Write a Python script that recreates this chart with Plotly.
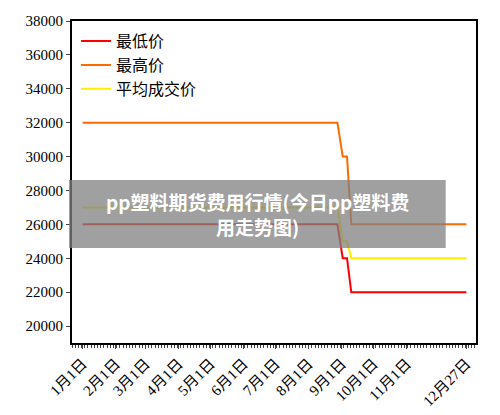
import plotly.graph_objects as go

dates = ["2023-01-01", "2023-08-28", "2023-09-02", "2023-09-06", "2023-09-10", "2023-12-27"]
low = [26000, 26000, 24000, 24000, 22000, 22000]
high = [32000, 32000, 30000, 30000, 26000, 26000]
avg = [27000, 27000, 25000, 25000, 24000, 24000]
tick_dates = ["2023-01-01", "2023-02-01", "2023-03-01", "2023-04-01", "2023-05-01", "2023-06-01",
              "2023-07-01", "2023-08-01", "2023-09-01", "2023-10-01", "2023-11-01", "2023-12-27"]
tick_labels = ["1月1日", "2月1日", "3月1日", "4月1日", "5月1日", "6月1日",
               "7月1日", "8月1日", "9月1日", "10月1日", "11月1日", "12月27日"]
y_ticks = list(range(20000, 38001, 2000))
y_labels = [str(v) for v in y_ticks]

fig = go.Figure()
fig.add_trace(go.Scatter(x=dates, y=low, mode="lines", name="最低价", line=dict(color="#ff0000", width=2)))
fig.add_trace(go.Scatter(x=dates, y=high, mode="lines", name="最高价", line=dict(color="#ff6a00", width=2)))
fig.add_trace(go.Scatter(x=dates, y=avg, mode="lines", name="平均成交价", line=dict(color="#ffee00", width=2)))

font = "'Liberation Serif', 'Noto Sans CJK SC', serif"
fig.update_layout(
    width=500, height=415, margin=dict(l=64, r=32, t=13, b=80),
    paper_bgcolor="white", plot_bgcolor="white",
    font=dict(family=font, size=15, color="black"),
    showlegend=True,
    legend=dict(x=0.01, y=0.99, xanchor="left", yanchor="top", bgcolor="rgba(0,0,0,0)",
                font=dict(size=16), tracegroupgap=0),
    xaxis=dict(type="date", range=["2022-12-22", "2024-01-05"], tickvals=tick_dates, ticktext=tick_labels,
               tickangle=-45, showgrid=False, showline=True, linecolor="black", linewidth=2, mirror=True,
               ticks="outside", ticklen=4, tickfont=dict(family=font, size=15), automargin=False,
               minor=dict(ticks="outside", ticklen=3, dtick=3 * 86400000)),
    yaxis=dict(range=[19000, 38000], tickvals=y_ticks, ticktext=y_labels, showgrid=False, automargin=False,
               showline=True, linecolor="black", linewidth=2, mirror=True, ticks="outside", ticklen=4,
               tickfont=dict(family=font, size=15)),
)
fig.add_shape(type="rect", xref="paper", yref="paper", x0=-0.0075, x1=0.925, y0=0.295, y1=0.506,
              fillcolor="rgba(128,128,128,0.75)", line=dict(width=0), layer="above")
fig.add_annotation(xref="paper", yref="paper", x=0.46, y=0.40, showarrow=False,
                   text="<b>pp塑料期货费用行情(今日pp塑料费<br>用走势图)</b>",
                   font=dict(family="Noto Sans CJK SC", size=19, color="white"), align="center")
fig.write_html("out.html")
